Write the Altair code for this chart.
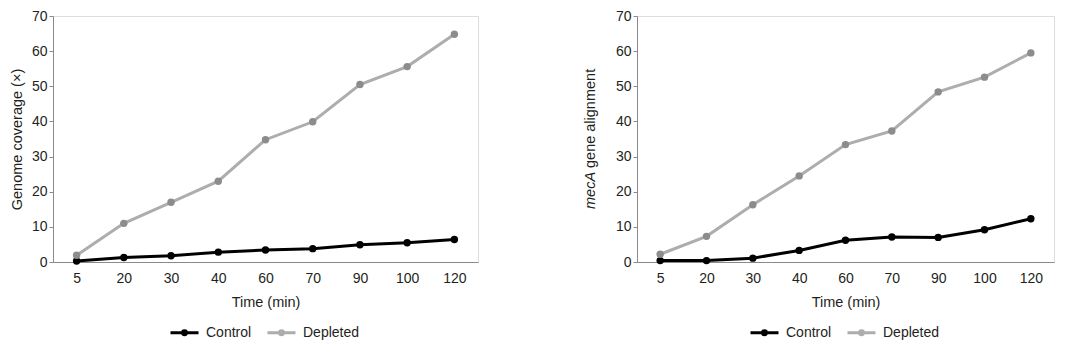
import altair as alt
import pandas as pd

times = ["5", "20", "30", "40", "60", "70", "90", "100", "120"]
series_names = ["Control", "Depleted"]

cov_control = [0.3, 1.3, 1.8, 2.8, 3.4, 3.8, 4.9, 5.5, 6.4]
cov_depleted = [1.9, 11.0, 17.0, 23.0, 34.8, 39.9, 50.5, 55.6, 64.8]

meca_control = [0.4, 0.4, 1.1, 3.3, 6.2, 7.1, 7.0, 9.2, 12.3]
meca_depleted = [2.2, 7.3, 16.3, 24.5, 33.4, 37.3, 48.4, 52.6, 59.5]

FONT = "Liberation Sans"
TXT = "#231f20"
AX = "#8a8a8a"
LINE_COLORS = ["#000000", "#adadad"]
DOT_COLORS = ["#000000", "#8c8c8c"]
LEGEND_SYMBOL = "M-1,0H1M-0.14,0a0.14,0.14 0 1,0 0.28,0a0.14,0.14 0 1,0 -0.28,0"
TITLE_SIZE = 14.5
TICK_SIZE = 14


def make_df(ctrl, dep):
    rows = []
    for t, v in zip(times, ctrl):
        rows.append({"time": t, "value": v, "series": "Control"})
    for t, v in zip(times, dep):
        rows.append({"time": t, "value": v, "series": "Depleted"})
    return pd.DataFrame(rows)


def panel(df, width, ytitle, legend_x):
    xenc = alt.X(
        "time:O",
        sort=times,
        scale=alt.Scale(type="point", padding=0.5),
        axis=alt.Axis(
            title="Time (min)", labelAngle=0, ticks=False, tickSize=0,
            labelPadding=9, titlePadding=10, domainColor=AX, domainWidth=1,
            labelFont=FONT, labelFontSize=TICK_SIZE, labelColor=TXT,
            titleFont=FONT, titleFontSize=TITLE_SIZE, titleFontWeight="normal", titleColor=TXT,
        ),
    )
    yenc = alt.Y(
        "value:Q",
        scale=alt.Scale(domain=[0, 70], nice=False),
        axis=alt.Axis(
            title=ytitle, values=list(range(0, 71, 10)), grid=False,
            tickSize=4, tickColor=AX, domainColor=AX, labelPadding=2,
            labelFont=FONT, labelFontSize=TICK_SIZE, labelColor=TXT,
            titleFont=FONT, titleFontSize=TITLE_SIZE, titleFontWeight="normal", titleColor=TXT,
            titlePadding=7,
        ),
    )
    base = alt.Chart(df)
    line = base.mark_line(strokeWidth=3).encode(
        x=xenc, y=yenc,
        stroke=alt.Stroke(
            "series:N",
            scale=alt.Scale(domain=series_names, range=LINE_COLORS),
            legend=alt.Legend(
                title=None, orient="none", legendX=legend_x, legendY=301,
                direction="horizontal", symbolType=LEGEND_SYMBOL, symbolSize=784,
                symbolStrokeWidth=3, labelFont=FONT, labelFontSize=14,
                labelColor=TXT, labelOffset=6, columnPadding=9, padding=0,
            ),
        ),
    )
    pts = base.mark_point(filled=True, size=55, opacity=1).encode(
        x=xenc, y=yenc,
        fill=alt.Fill(
            "series:N",
            scale=alt.Scale(domain=series_names, range=DOT_COLORS),
            legend=None,
        ),
    )
    return alt.layer(line, pts).properties(width=width, height=246)


left = panel(make_df(cov_control, cov_depleted), 425, "Genome coverage (×)", 116)

right_base = panel(make_df(meca_control, meca_depleted), 417, None, 112)
t1 = alt.Chart(pd.DataFrame({"t": ["mecA"]})).mark_text(
    angle=270, align="left", baseline="alphabetic", font=FONT, fontSize=TITLE_SIZE,
    fontStyle="italic", color=TXT,
).encode(x=alt.value(-42), y=alt.value(193), text="t:N")
t2 = alt.Chart(pd.DataFrame({"t": ["gene alignment"]})).mark_text(
    angle=270, align="left", baseline="alphabetic", font=FONT, fontSize=TITLE_SIZE,
    color=TXT,
).encode(x=alt.value(-42), y=alt.value(152), text="t:N")
right = alt.layer(right_base, t1, t2)

chart = (
    alt.hconcat(left, right, spacing=103)
    .resolve_legend(stroke="independent")
    .resolve_scale(stroke="independent", fill="independent")
    .properties(padding={"left": 0, "top": 0, "right": 0, "bottom": 0})
    .configure_view(stroke=None)
    .configure(background="white")
)

chart.save("out.html", embed_options={"renderer": "svg", "actions": False})
